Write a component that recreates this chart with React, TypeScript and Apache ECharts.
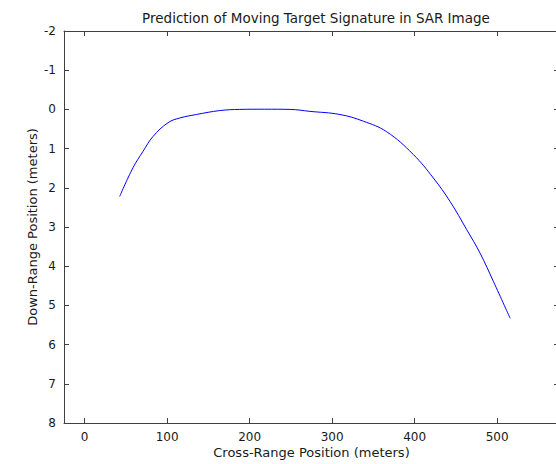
import React, { useEffect, useRef } from "react";
import * as echarts from "echarts";

const titleText = "Prediction of Moving Target Signature in SAR Image";
const xName = "Cross-Range Position (meters)";
const yName = "Down-Range Position (meters)";
const xTicks = [0, 100, 200, 300, 400, 500];
const yTicks = [-2, -1, 0, 1, 2, 3, 4, 5, 6, 7, 8];
const crossRange = [42.5, 58.6, 70.8, 82.9, 101.1, 115.3, 135.6, 163.8, 188.1, 218, 248.8, 273.1, 309.5, 337.7, 366.1, 398.4, 422.7, 443, 463.2, 479.4, 495.5, 515.8];
const downRange = [2.22, 1.49, 1.07, 0.69, 0.34, 0.22, 0.13, 0.03, 0.0, -0.005, 0.0, 0.05, 0.13, 0.3, 0.57, 1.15, 1.75, 2.35, 3.07, 3.67, 4.39, 5.33];

const FONT = "'DejaVu Sans', 'Liberation Sans', Arial, sans-serif";
const AXIS_COLOR = "#404040";
const TEXT_COLOR = "#1a1a1a";

export default function App() {
  const ref = useRef<HTMLDivElement>(null);
  useEffect(() => {
    if (!ref.current) return;
    const chart = echarts.init(ref.current, undefined, { renderer: "svg" });
    const data = crossRange.map((x, i) => [x, downRange[i]]);
    const baseX = {
      type: "value" as const,
      min: -25,
      max: 575,
      axisLine: { show: true, onZero: false, lineStyle: { color: AXIS_COLOR, width: 1 } },
      splitLine: { show: false },
    };
    const baseY = {
      type: "value" as const,
      min: -2,
      max: 8,
      interval: 1,
      inverse: true,
      axisLine: { show: true, onZero: false, lineStyle: { color: AXIS_COLOR, width: 1 } },
      splitLine: { show: false },
      axisTick: { show: true, inside: true, length: 5, lineStyle: { color: AXIS_COLOR } },
    };
    chart.setOption({
      animation: false,
      backgroundColor: "#ffffff",
      title: {
        text: titleText,
        left: 311,
        textAlign: "center",
        top: 6,
        textStyle: { fontFamily: FONT, fontSize: 13.5, fontWeight: "normal", color: TEXT_COLOR },
      },
      grid: { left: 64, top: 31, right: 41, bottom: 41, containLabel: false },
      xAxis: [
        {
          ...baseX,
          position: "bottom",
          name: xName,
          nameLocation: "middle",
          nameGap: 23,
          nameMoveOverlap: false,
          nameTextStyle: { fontFamily: FONT, fontSize: 13, color: TEXT_COLOR },
          axisTick: { show: true, inside: true, length: 5, customValues: xTicks, lineStyle: { color: AXIS_COLOR } },
          axisLabel: { show: true, customValues: xTicks, margin: 8, fontFamily: FONT, fontSize: 12, color: TEXT_COLOR },
        },
        {
          ...baseX,
          position: "top",
          axisTick: { show: true, inside: true, length: 5, customValues: xTicks, lineStyle: { color: AXIS_COLOR } },
          axisLabel: { show: false },
        },
      ],
      yAxis: [
        {
          ...baseY,
          position: "left",
          name: yName,
          nameLocation: "middle",
          nameGap: 25,
          nameMoveOverlap: false,
          nameRotate: 90,
          nameTextStyle: { fontFamily: FONT, fontSize: 13, color: TEXT_COLOR },
          axisLabel: {
            show: true,
            margin: 8,
            fontFamily: FONT,
            fontSize: 12,
            color: TEXT_COLOR,
            formatter: (v: number) => (yTicks.includes(v) ? String(v) : ""),
          },
        },
        {
          ...baseY,
          position: "right",
          axisLabel: { show: false },
        },
      ],
      series: [
        {
          type: "line",
          data,
          xAxisIndex: 0,
          yAxisIndex: 0,
          showSymbol: false,
          symbol: "none",
          smooth: 0.4,
          lineStyle: { color: "#0000ff", width: 1 },
        },
      ],
    });
    return () => chart.dispose();
  }, []);
  return (
    <div style={{ position: "fixed", left: 0, top: 0, width: 556, height: 464, overflow: "hidden", background: "#fff" }}>
      <div ref={ref} style={{ width: 600, height: 464 }} />
    </div>
  );
}
